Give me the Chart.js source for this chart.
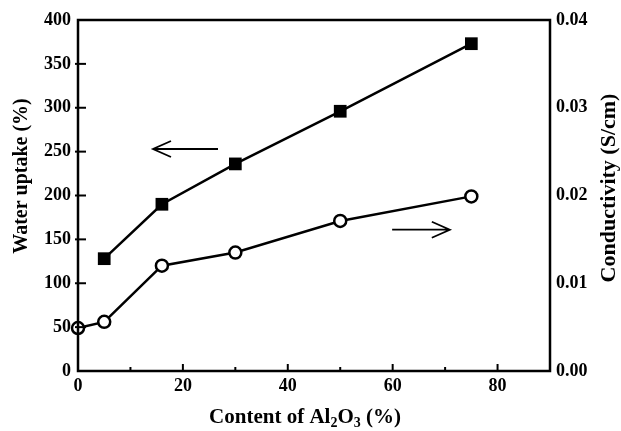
<!DOCTYPE html>
<html>
<head>
<meta charset="utf-8">
<script src="https://cdn.jsdelivr.net/npm/chart.js@4.4.1/dist/chart.umd.min.js"></script>
<style>
  html, body { margin: 0; padding: 0; background: #fff; }
  #wrap { width: 621px; height: 431px; }
</style>
</head>
<body>
<div id="wrap"><canvas id="chart" width="621" height="431"></canvas></div>
<script>
// data
const waterX      = [5, 16, 30, 50, 75];
const waterUptake = [128, 190, 236, 296, 373];
const condX       = [0, 5, 16, 30, 50, 75];
const conductivity = [0.0049, 0.0056, 0.0120, 0.0135, 0.0171, 0.0199];

// arrows (data units): [xTail, xHead, y, axis]
const arrowLeft  = [26.7, 14.3, 253, 'y'];
const arrowRight = [59.9, 70.9, 0.0161, 'y2'];

const FONT = "'Liberation Serif', 'Times New Roman', serif";
const INK = '#000';

const toPts = (xs, ys) => xs.map((x, i) => ({ x: x, y: ys[i] }));

// ticks, frame, titles and arrows
const decorPlugin = {
    id: 'decor',
    afterDraw(chart) {
        const ctx = chart.ctx;
        const a = chart.chartArea;
        const sx = chart.scales.x, sy = chart.scales.y;
        ctx.save();
        ctx.strokeStyle = INK;
        ctx.lineCap = 'butt';

        // frame
        ctx.lineWidth = 2.5;
        ctx.strokeRect(a.left, a.top, a.right - a.left, a.bottom - a.top);

        // x ticks (inward)
        ctx.lineWidth = 2;
        sx.ticks.forEach(t => {
            if (t.value <= sx.min || t.value >= sx.max) return;
            const px = sx.getPixelForValue(t.value);
            const len = t.value % 20 === 0 ? 7 : 4;
            ctx.beginPath();
            ctx.moveTo(px, a.bottom);
            ctx.lineTo(px, a.bottom - len);
            ctx.stroke();
        });
        // left y ticks
        sy.ticks.forEach(t => {
            if (t.value <= sy.min || t.value >= sy.max) return;
            const py = sy.getPixelForValue(t.value);
            const major = t.value % 50 === 0;
            ctx.beginPath();
            ctx.moveTo(a.left - (major ? 3 : 0), py);
            ctx.lineTo(a.left + (major ? 8 : 4), py);
            ctx.stroke();
        });

        // arrows
        ctx.lineWidth = 1.8;
        ctx.lineJoin = 'miter';
        [arrowLeft, arrowRight].forEach(arr => {
            const ys = chart.scales[arr[3]];
            const x0 = sx.getPixelForValue(arr[0]);
            const x1 = sx.getPixelForValue(arr[1]);
            const py = ys.getPixelForValue(arr[2]);
            const dir = x1 > x0 ? 1 : -1;
            ctx.beginPath();
            ctx.moveTo(x0, py);
            ctx.lineTo(x1, py);
            ctx.moveTo(x1 - dir * 18, py - 8);
            ctx.lineTo(x1, py);
            ctx.lineTo(x1 - dir * 18, py + 8);
            ctx.stroke();
        });

        // axis titles
        ctx.fillStyle = INK;
        ctx.textBaseline = 'alphabetic';
        const big = 'bold 21px ' + FONT;
        const small = 'bold 14px ' + FONT;
        const parts = [['Content of Al', big, 0], ['2', small, 4], ['O', big, 0], ['3', small, 4], [' (%)', big, 0]];
        let w = 0;
        parts.forEach(p => { ctx.font = p[1]; w += ctx.measureText(p[0]).width; });
        let x = 305 - w / 2;
        parts.forEach(p => {
            ctx.font = p[1];
            ctx.fillText(p[0], x, 423 + p[2]);
            x += ctx.measureText(p[0]).width;
        });

        ctx.textAlign = 'center';
        ctx.textBaseline = 'middle';
        ctx.font = 'bold 20px ' + FONT;
        ctx.save();
        ctx.translate(22, 176);
        ctx.rotate(-Math.PI / 2);
        ctx.fillText('Water uptake (%)', 0, 0);
        ctx.restore();
        ctx.font = 'bold 22px ' + FONT;
        ctx.save();
        ctx.translate(609, 188);
        ctx.rotate(-Math.PI / 2);
        ctx.fillText('Conductivity (S/cm)', 0, 0);
        ctx.restore();

        ctx.restore();
    }
};

const tickFont = { family: FONT, size: 18, weight: 'bold' };

new Chart(document.getElementById('chart'), {
    type: 'line',
    data: {
        datasets: [{
            label: 'Water uptake',
            data: toPts(waterX, waterUptake),
            yAxisID: 'y',
            borderColor: INK,
            borderWidth: 2.5,
            pointStyle: 'rect',
            pointRadius: 9,
            pointBackgroundColor: INK,
            pointBorderColor: INK,
            pointBorderWidth: 0,
            tension: 0,
            clip: false
        }, {
            label: 'Conductivity',
            data: toPts(condX, conductivity),
            yAxisID: 'y2',
            borderColor: INK,
            borderWidth: 2.5,
            pointStyle: 'circle',
            pointRadius: 6,
            pointBackgroundColor: '#fff',
            pointBorderColor: INK,
            pointBorderWidth: 2.5,
            tension: 0,
            clip: false
        }]
    },
    options: {
        responsive: false,
        animation: false,
        layout: { padding: { top: 20, left: 0, right: 0, bottom: 0 } },
        plugins: { legend: { display: false }, tooltip: { enabled: false } },
        scales: {
            x: {
                type: 'linear',
                min: 0, max: 90,
                grid: { display: false, drawTicks: false },
                border: { display: false },
                ticks: {
                    stepSize: 10,
                    padding: 5,
                    color: INK,
                    font: tickFont,
                    maxRotation: 0,
                    callback: v => (v % 20 === 0 && v < 90) ? v : ''
                },
                afterFit: s => { s.height = 60; }
            },
            y: {
                position: 'left',
                min: 0, max: 400,
                grid: { display: false, drawTicks: false },
                border: { display: false },
                ticks: {
                    stepSize: 25,
                    padding: 7,
                    color: INK,
                    font: tickFont,
                    callback: v => v % 50 === 0 ? v : ''
                },
                afterFit: s => { s.width = 78; }
            },
            y2: {
                position: 'right',
                min: 0, max: 0.04,
                grid: { display: false, drawTicks: false },
                border: { display: false },
                ticks: {
                    stepSize: 0.01,
                    padding: 6,
                    color: INK,
                    font: tickFont,
                    callback: v => v.toFixed(2)
                },
                afterFit: s => { s.width = 71; }
            }
        }
    },
    plugins: [decorPlugin]
});
</script>
</body>
</html>
